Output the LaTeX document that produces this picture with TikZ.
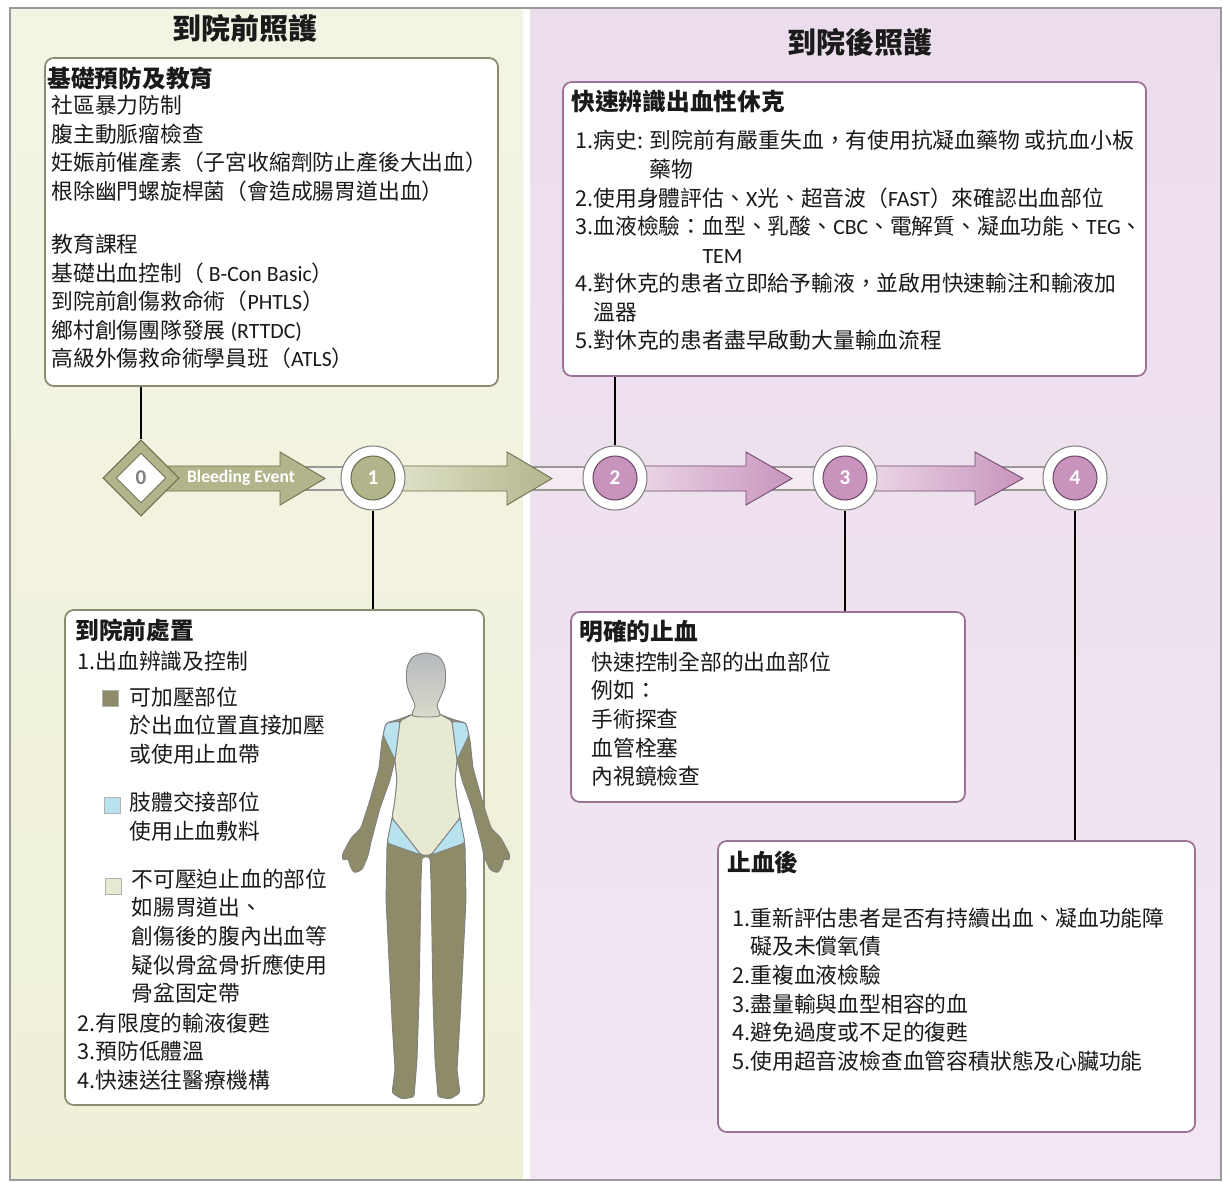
\documentclass[tikz,border=0pt]{standalone}
\usepackage{fontspec}
\setmainfont{Noto Sans CJK TC}
\newfontfamily\calib{Carlito}
\usepackage{tikz}
\usetikzlibrary{shapes.geometric,fit,positioning}

\definecolor{preback}{HTML}{F4F4E5}
\definecolor{preback2}{HTML}{EFF0D6}
\definecolor{postback}{HTML}{ECDDEC}
\definecolor{postback2}{HTML}{F2E7F2}
\definecolor{framegray}{HTML}{9A9A9A}
\definecolor{olivefill}{HTML}{B2B58C}
\definecolor{olivedark}{HTML}{6C6E4E}
\definecolor{olivebody}{HTML}{8E8C68}
\definecolor{olivepale}{HTML}{E7E9D2}
\definecolor{mauvefill}{HTML}{C894BD}
\definecolor{mauvedark}{HTML}{6E4A69}
\definecolor{mauvepale}{HTML}{F0E0EC}
\definecolor{boxolive}{HTML}{8C8D70}
\definecolor{boxmauve}{HTML}{9C7397}
\definecolor{skyblue}{HTML}{B7E2EE}
\definecolor{headtop}{HTML}{B6B9BD}
\definecolor{headbot}{HTML}{D9DBCB}
\definecolor{ink}{HTML}{1A1A1A}

% latin acronyms inside the chinese text
\newcommand{\acr}[1]{{\calib #1}}

% block arrow along the time line: start x, head base x, tip x, style
\newcommand{\blockarrow}[4]{%
  \path[#4] (#1,466) -- (#2,466) -- (#2,452) -- (#3,478.5)
    -- (#2,505) -- (#2,491) -- (#1,491) -- cycle;}

\begin{document}
\begin{tikzpicture}
  [
   x=0.02cm, y=-0.02cm,
   panelhead/.style={font=\bfseries\fontsize{16.5}{20}\selectfont, text=ink},
   boxpre/.style={draw=boxolive, line width=1pt, fill=white, rounded corners=5pt, inner sep=0pt},
   boxpost/.style={draw=boxmauve, line width=1pt, fill=white, rounded corners=5pt, inner sep=0pt},
   boxhead/.style={anchor=north west, inner sep=0pt, text=ink, font=\bfseries\fontsize{13.5}{16.25}\selectfont},
   boxtext/.style={anchor=north west, inner sep=0pt, align=left, text=ink, font=\fontsize{12.4}{16.25}\selectfont},
   stnring/.style={circle, draw=gray, fill=white, line width=0.6pt, minimum size=1.28cm, inner sep=0pt},
   stn/.style={circle, line width=0.6pt, minimum size=0.88cm, inner sep=0pt, text=white, font=\calib\bfseries\fontsize{12}{12}\selectfont},
   conn/.style={line width=1.2pt, black},
   swatch/.style={draw=gray!60, minimum size=0.32cm, inner sep=0pt},
   figline/.style={draw=gray, line width=0.5pt, line join=round}
  ]
  \useasboundingbox (0,0) rectangle (1223,1182);

  % the two phases
  \shade[top color=preback, bottom color=preback2] (10,8) rectangle (523,1180);
  \shade[top color=postback, bottom color=postback2] (530,8) rectangle (1221,1180);
  \draw[framegray, line width=1pt] (10,8) rectangle (1221,1180);
  \node[panelhead] (preT) at (245,28) {到院前照護};
  \node[panelhead] (postT) at (860,42) {到院後照護};

  % time line
  \fill[olivepale!60!white] (141,467) rectangle (527,490);
  \fill[mauvepale!70!white] (527,467) rectangle (1075,490);
  \draw[gray!80, line width=0.8pt] (141,467) -- (1075,467) (141,490) -- (1075,490);

  \blockarrow{141}{280}{325}{fill=olivefill, draw=olivedark, line width=0.5pt}
  \blockarrow{373}{507}{552}{left color=olivepale, right color=olivefill, draw=olivedark, line width=0.5pt}
  \blockarrow{615}{746}{792}{left color=mauvepale, right color=mauvefill, draw=mauvedark, line width=0.5pt}
  \blockarrow{845}{975}{1023}{left color=mauvepale, right color=mauvefill, draw=mauvedark, line width=0.5pt}
  \node[text=white, font=\calib\bfseries\fontsize{10}{10}\selectfont] (bleed) at (241,478) {Bleeding Event};

  \node[diamond, draw=olivedark, fill=olivefill, line width=0.6pt, minimum size=1.52cm, inner sep=0pt] (dia0) at (141,478) {};
  \node[diamond, draw=olivedark, fill=white, line width=0.5pt, minimum size=1.0cm, inner sep=0pt,
        text=gray, font=\calib\bfseries\fontsize{12}{12}\selectfont] (dia0in) at (dia0) {0};

  \foreach \i/\x/\fc/\dc in {1/373/olivefill/olivedark, 2/615/mauvefill/mauvedark,
                             3/845/mauvefill/mauvedark, 4/1075/mauvefill/mauvedark}{
    \node[stnring] (r\i) at (\x,478) {};
    \node[stn, fill=\fc, draw=\dc] (s\i) at (r\i) {\i};
  }

  % boxes
  \node[boxpre, fit={(45,58) (498,386)}] (boxA) {};
  \node[boxpost, fit={(563,82) (1146,376)}] (boxB) {};
  \node[boxpre, fit={(65,610) (484,1105)}] (boxC) {};
  \node[boxpost, fit={(571,612) (965,802)}] (boxD) {};
  \node[boxpost, fit={(718,841) (1195,1132)}] (boxE) {};

  \draw[conn] (dia0 |- boxA.south) -- (dia0.north);
  \draw[conn] (r1.south) -- (r1 |- boxC.north);
  \draw[conn] (r2 |- boxB.south) -- (r2.north);
  \draw[conn] (r3.south) -- (r3 |- boxD.north);
  \draw[conn] (r4.south) -- (r4 |- boxE.north);

  % prevention
  \node[boxhead] (hA) at ([shift={(3,9)}]boxA.north west) {基礎預防及教育};
  \node[boxtext] (tA) at ([shift={(7,38)}]boxA.north west)
    {社區暴力防制\\腹主動脈瘤檢查\\妊娠前催產素（子宮收縮劑防止產後大出血）\\
     根除幽門螺旋桿菌（會造成腸胃道出血）\\[14pt]
     教育課程\\基礎出血控制（ \acr{B-Con Basic}）\\到院前創傷救命術（\acr{PHTLS}）\\
     鄉村創傷團隊發展 \acr{(RTTDC)}\\高級外傷救命術學員班（\acr{ATLS}）};

  % shock recognition
  \node[boxhead] (hB) at ([shift={(9,9)}]boxB.north west) {快速辨識出血性休克};
  \node[boxtext] (tB) at ([shift={(13,49)}]boxB.north west)
    {1.病史: 到院前有嚴重失血，有使用抗凝血藥物 或抗血小板\\
     \phantom{1.病史: }藥物\\
     2.使用身體評估、\acr{X}光、超音波（\acr{FAST}）來確認出血部位\\
     3.血液檢驗：血型、乳酸、\acr{CBC}、電解質、凝血功能、\acr{TEG}、\\
     \phantom{3.血液檢驗：}\acr{TEM}\\
     4.對休克的患者立即給予輸液，並啟用快速輸注和輸液加\\
     \phantom{4.}溫器\\
     5.對休克的患者盡早啟動大量輸血流程};

  % prehospital care
  \node[boxhead] (hC) at ([shift={(11,9.5)}]boxC.north west) {到院前處置};
  \node[boxtext] (tC) at ([shift={(13,42)}]boxC.north west) {1.出血辨識及控制};
  \node[swatch, fill=olivebody] (sw1) at (110,698) {};
  \node[swatch, fill=skyblue] (sw2) at (112,805) {};
  \node[swatch, fill=olivepale] (sw3) at (113,886) {};
  \node[boxtext] (lg1) at ([shift={(65,77.5)}]boxC.north west)
    {可加壓部位\\於出血位置直接加壓\\或使用止血帶};
  \node[boxtext] (lg2) at ([shift={(65,182.5)}]boxC.north west)
    {肢體交接部位\\使用止血敷料};
  \node[boxtext] (lg3) at ([shift={(67,259.5)}]boxC.north west)
    {不可壓迫止血的部位\\如腸胃道出、\\創傷後的腹內出血等\\疑似骨盆骨折應使用\\骨盆固定帶};
  \node[boxtext] (tC2) at ([shift={(13,403.5)}]boxC.north west)
    {2.有限度的輸液復甦\\3.預防低體溫\\4.快速送往醫療機構};

  % body chart
  \begin{scope}[figline, rounded corners=1.5pt]
    \filldraw[fill=olivebody] (413,714) -- (400,719) -- (386,723) -- (382,740) -- (379,768)
      -- (370,800) -- (361,828) -- (351,838) -- (342,855) -- (343,861) -- (348,858)
      -- (350,866) -- (354,873) -- (362,870) -- (368,856) -- (371,842) -- (380,808)
      -- (390,780) -- (395,760) -- (397,780) -- (395,800) -- (392,818) -- (387,845)
      -- (386,900) -- (389,960) -- (392,1020) -- (395,1070) -- (392,1093) -- (402,1099)
      -- (414,1097) -- (417,1060) -- (419,1000) -- (420,940) -- (421,880) -- (422,857)
      -- (430,857) -- (431,880) -- (432,940) -- (433,1000) -- (435,1060) -- (438,1097)
      -- (450,1099) -- (460,1093) -- (457,1070) -- (460,1020) -- (463,960) -- (466,900)
      -- (465,845) -- (460,818) -- (457,800) -- (455,780) -- (457,760) -- (462,780)
      -- (472,808) -- (481,842) -- (484,856) -- (490,870) -- (498,873) -- (502,866)
      -- (504,858) -- (509,861) -- (510,855) -- (501,838) -- (491,828) -- (482,800)
      -- (473,768) -- (470,740) -- (466,723) -- (452,719) -- (439,714) -- cycle;
    \filldraw[fill=olivepale] (413,714) -- (400,721) -- (395,760) -- (397,780) -- (395,800)
      -- (392,818) -- (421,855) -- (431,855) -- (460,818) -- (457,800) -- (455,780)
      -- (457,760) -- (452,721) -- (439,714) -- cycle;
    \filldraw[fill=skyblue] (386,723) -- (400,721) -- (395,760) -- (383,735) -- cycle;
    \filldraw[fill=skyblue] (466,723) -- (452,721) -- (457,760) -- (469,735) -- cycle;
    \filldraw[fill=skyblue] (392,818) -- (387,843) -- (421,855) -- cycle;
    \filldraw[fill=skyblue] (460,818) -- (465,843) -- (431,855) -- cycle;
  \end{scope}
  \shadedraw[figline, top color=headtop, bottom color=headbot] plot[smooth cycle] coordinates
    {(426,653) (439,657) (445,668) (445,685) (440,698) (437,706) (439,716) (413,716)
     (415,706) (412,698) (407,685) (407,668) (413,657)};

  % definitive hemostasis
  \node[boxhead] (hD) at ([shift={(9,9)}]boxD.north west) {明確的止血};
  \node[boxtext] (tD) at ([shift={(21,40.5)}]boxD.north west)
    {快速控制全部的出血部位\\例如：\\手術探查\\血管栓塞\\內視鏡檢查};

  % after hemostasis
  \node[boxhead] (hE) at ([shift={(10,11)}]boxE.north west) {止血後};
  \node[boxtext] (tE) at ([shift={(15,67.5)}]boxE.north west)
    {1.重新評估患者是否有持續出血、凝血功能障\\
     \phantom{1.}礙及未償氧債\\
     2.重複血液檢驗\\3.盡量輸與血型相容的血\\4.避免過度或不足的復甦\\
     5.使用超音波檢查血管容積狀態及心臟功能};
\end{tikzpicture}
\end{document}
